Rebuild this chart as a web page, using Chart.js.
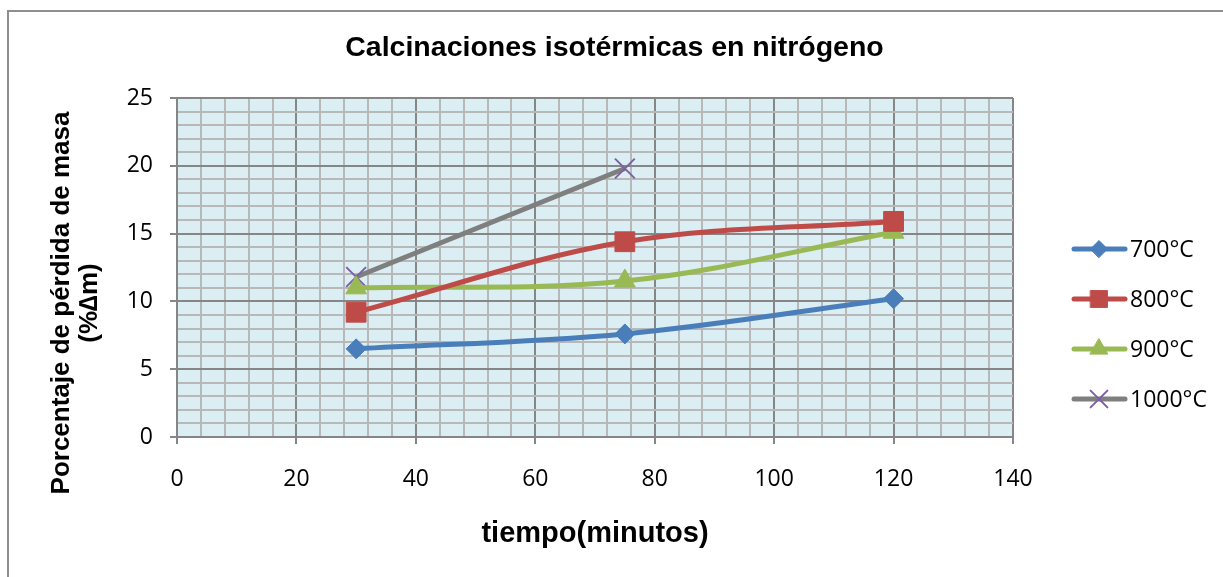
<!DOCTYPE html>
<html lang="es">
<head>
<meta charset="utf-8">
<title>Calcinaciones isotérmicas en nitrógeno</title>
<script src="https://cdn.jsdelivr.net/npm/chart.js@4.4.1/dist/chart.umd.min.js"></script>
<style>
  html, body { margin: 0; padding: 0; background: #fff; overflow: hidden; }
  #frame {
    position: absolute; left: 7px; top: 10px; width: 1400px; height: 800px;
    border-left: 2px solid #8e8e8e; border-top: 2px solid #8e8e8e;
  }
  #wrap { position: absolute; left: 0; top: 0; width: 1223px; height: 577px; }
</style>
</head>
<body>
<div id="frame"></div>
<div id="wrap"><canvas id="chart" width="1223" height="577"></canvas></div>
<script>
// Data.
const minutes = [30, 75, 120];
const loss700 = [6.5, 7.6, 10.2];
const loss800 = [9.2, 14.4, 15.9];
const loss900 = [11.0, 11.5, 15.1];
const loss1000 = [11.8, 19.8];
const seriesLabels = ["700°C", "800°C", "900°C", "1000°C"];
const chartTitle = "Calcinaciones isotérmicas en nitrógeno";
const yTitleLines = ["Porcentaje de pérdida de masa", "(%∆m)"];

const tickFont = { family: "'Open Sans', 'Liberation Sans', sans-serif", size: 23 };
const boldFamily = "'Liberation Sans', Arial, sans-serif";
const majorGrid = "#868686";
const minorGrid = "#b8b8b8";

function points(ys) {
  return ys.map((y, i) => ({ x: minutes[i], y: y }));
}

// Fill the plot area with the pale blue of the original.
const plotBackground = {
  id: "plotBackground",
  beforeDraw(chart) {
    const { ctx, chartArea: a } = chart;
    ctx.save();
    ctx.fillStyle = "#dbeef4";
    ctx.fillRect(a.left, a.top, a.width, a.height);
    ctx.restore();
  },
};

// Chart title centred on the whole canvas (the legend sits in the right margin),
// and the two-line y axis title, centred a bit lower than the plot like Excel does.
const titles = {
  id: "titles",
  afterDraw(chart) {
    const ctx = chart.ctx;
    ctx.save();
    ctx.fillStyle = "#000";
    ctx.textAlign = "center";
    ctx.textBaseline = "middle";
    ctx.font = "bold 28.5px " + boldFamily;
    ctx.fillText(chartTitle, chart.width / 2 + 3, 48);
    ctx.translate(62, 303);
    ctx.rotate(-Math.PI / 2);
    ctx.font = "bold 26px " + boldFamily;
    yTitleLines.forEach((line, i) => ctx.fillText(line, 0, i * 28));
    ctx.restore();
  },
};

// Legend on the right: a line with the marker on it, then the label.
const sideLegend = {
  id: "sideLegend",
  afterDraw(chart) {
    const ctx = chart.ctx;
    chart.data.datasets.forEach((ds, i) => {
      const y = 249 + i * 50;
      ctx.save();
      ctx.strokeStyle = ds.borderColor;
      ctx.lineWidth = 5;
      ctx.lineCap = "round";
      ctx.beginPath();
      ctx.moveTo(1074, y);
      ctx.lineTo(1125, y);
      ctx.stroke();
      ctx.fillStyle = ds.pointBackgroundColor;
      ctx.strokeStyle = ds.pointBorderColor;
      ctx.lineWidth = ds.pointBorderWidth;
      Chart.helpers.drawPoint(
        ctx,
        { pointStyle: ds.pointStyle, radius: ds.pointRadius * 0.85, borderWidth: ds.pointBorderWidth, rotation: 0 },
        1099,
        y,
      );
      ctx.fillStyle = "#000";
      ctx.font = tickFont.size + "px " + tickFont.family;
      ctx.textAlign = "left";
      ctx.textBaseline = "middle";
      ctx.fillText(seriesLabels[i], 1130, y + 1);
      ctx.restore();
    });
  },
};

function series(label, ys, color, style, radius, markerColor) {
  return {
    label: label,
    data: points(ys),
    borderColor: color,
    borderWidth: 5,
    tension: 0.35,
    pointStyle: style,
    pointRadius: radius,
    pointHoverRadius: radius,
    pointBackgroundColor: markerColor || color,
    pointBorderColor: markerColor || color,
    pointBorderWidth: style === "crossRot" ? 2 : 1,
  };
}

new Chart(document.getElementById("chart"), {
  type: "line",
  data: {
    datasets: [
      series(seriesLabels[0], loss700, "#4a7ebb", "rectRot", 10),
      series(seriesLabels[1], loss800, "#be4b48", "rect", 14),
      series(seriesLabels[2], loss900, "#98b954", "triangle", 12),
      series(seriesLabels[3], loss1000, "#7f7f7f", "crossRot", 14, "#7d5fa3"),
    ],
  },
  options: {
    responsive: false,
    animation: false,
    layout: { padding: { left: 0, right: 210, top: 98, bottom: 0 } },
    plugins: {
      legend: { display: false },
      tooltip: { enabled: false },
    },
    scales: {
      x: {
        type: "linear",
        min: 0,
        max: 140,
        afterFit(scale) { scale.height = 140; },
        ticks: {
          stepSize: 4,
          autoSkip: false,
          maxTicksLimit: 100,
          maxRotation: 0,
          padding: 22,
          color: "#000",
          font: tickFont,
          callback: (v) => (v % 20 === 0 ? v : ""),
        },
        grid: {
          lineWidth: 2,
          color: (c) => (c.tick && c.tick.value % 20 === 0 ? majorGrid : minorGrid),
          tickColor: (c) => (c.tick && c.tick.value % 20 === 0 ? majorGrid : "rgba(0,0,0,0)"),
          tickLength: 7,
        },
        border: { color: majorGrid, width: 2 },
        title: {
          display: true,
          text: "tiempo(minutos)",
          color: "#000",
          font: { family: boldFamily, size: 29, weight: "bold" },
          padding: { top: 0, bottom: 26 },
        },
      },
      y: {
        type: "linear",
        min: 0,
        max: 25,
        afterFit(scale) { scale.width = 177; },
        ticks: {
          stepSize: 1,
          autoSkip: false,
          maxTicksLimit: 100,
          padding: 17,
          color: "#000",
          font: tickFont,
          callback: (v) => (v % 5 === 0 ? v : ""),
        },
        grid: {
          lineWidth: 2,
          color: (c) => (c.tick && c.tick.value % 5 === 0 ? majorGrid : minorGrid),
          tickColor: (c) => (c.tick && c.tick.value % 5 === 0 ? majorGrid : "rgba(0,0,0,0)"),
          tickLength: 7,
        },
        border: { color: majorGrid, width: 2 },
      },
    },
  },
  plugins: [plotBackground, titles, sideLegend],
});
</script>
</body>
</html>
